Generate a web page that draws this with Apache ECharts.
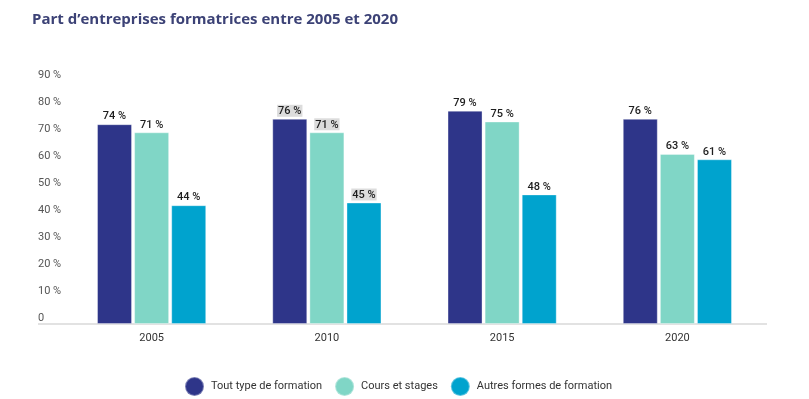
<!DOCTYPE html>
<html>
<head>
<meta charset="utf-8">
<script src="https://cdn.jsdelivr.net/npm/echarts@6/dist/echarts.min.js"></script>
<style>
  html, body { margin:0; padding:0; background:#fff; }
  #chart { width:809px; height:399px; }
</style>
</head>
<body>
<div id="chart"></div>
<script type="text/javascript">
  // données
  var years = ['2005', '2010', '2015', '2020'];
  var seriesNames = ['Tout type de formation', 'Cours et stages', 'Autres formes de formation'];
  var toutType = [74, 76, 79, 76];
  var cours = [71, 71, 75, 63];
  var autres = [44, 45, 48, 61];
  var yTicks = [0, 10, 20, 30, 40, 50, 60, 70, 80, 90];

  var colors = ['#2e3589', '#80d6c6', '#00a3ce'];

  var myChart = echarts.init(document.getElementById('chart'));

  // les étiquettes de 2010 sont surlignées en gris sur l'image
  function withLabels(values) {
    return values.map(function (v, i) {
      if (years[i] === '2010') {
        return { value: v, label: { backgroundColor: '#dcdcdc', padding: [1, 1, 0, 1] } };
      }
      return v;
    });
  }

  function makeSeries(name, values, idx) {
    return {
      name: name,
      type: 'bar',
      barWidth: 35,
      barGap: '6%',
      itemStyle: { color: colors[idx], borderColor: 'rgba(255,255,255,0.35)', borderWidth: 1 },
      label: {
        show: true,
        position: 'top',
        distance: 2,
        color: '#1e1e1e',
        fontFamily: 'Roboto',
        fontSize: 11,
        fontWeight: 500,
        formatter: '{c} %'
      },
      data: withLabels(values)
    };
  }

  myChart.setOption({
    animation: false,
    title: {
      text: 'Part d\u2019entreprises formatrices entre 2005 et 2020',
      left: 27,
      top: 7,
      textStyle: { color: '#3c4276', fontFamily: 'Open Sans', fontWeight: 'bold', fontSize: 15 }
    },
    legend: {
      data: seriesNames,
      left: 179,
      top: 371,
      icon: 'circle',
      itemWidth: 19,
      itemHeight: 19,
      itemGap: 12,
      textStyle: { color: '#333', fontFamily: 'Roboto', fontSize: 11, padding: [0, 0, 0, 2] }
    },
    grid: { left: 64, right: 44, top: 81, bottom: 75 },
    graphic: [{
      type: 'line',
      z: 0,
      shape: { x1: 38, y1: 324, x2: 767, y2: 324 },
      style: { stroke: '#d8d8d8', lineWidth: 1.5 }
    }],
    xAxis: {
      type: 'category',
      data: years,
      axisTick: { show: false },
      axisLine: { show: false },
      axisLabel: { color: '#333', fontFamily: 'Roboto', fontSize: 11, margin: 9 }
    },
    yAxis: {
      type: 'value',
      min: yTicks[0],
      max: yTicks[yTicks.length - 1],
      interval: 10,
      splitLine: { show: false },
      axisLine: { show: false },
      axisTick: { show: false },
      axisLabel: {
        color: '#555',
        fontFamily: 'Roboto',
        fontSize: 11,
        align: 'left',
        verticalAlign: 'bottom',
        margin: 26,
        formatter: function (v) { return v === 0 ? '0' : v + ' %'; }
      }
    },
    series: [
      makeSeries(seriesNames[0], toutType, 0),
      makeSeries(seriesNames[1], cours, 1),
      makeSeries(seriesNames[2], autres, 2)
    ]
  });
</script>
</body>
</html>
